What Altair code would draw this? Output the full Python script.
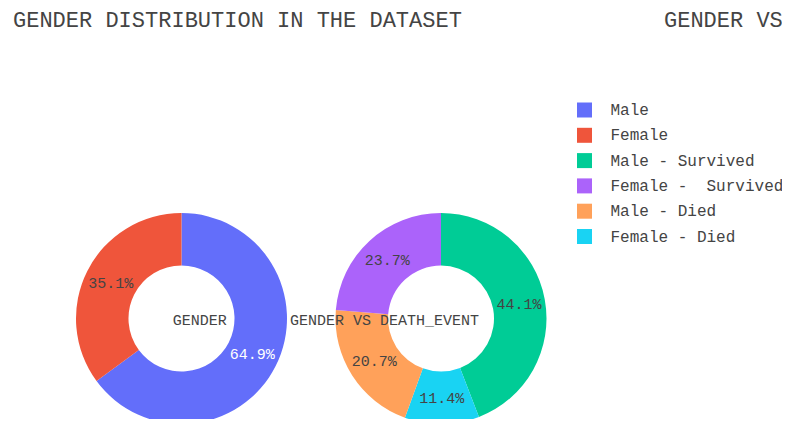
import altair as alt
import pandas as pd

# ---- data ----
gender_labels = ["Male", "Female"]
gender_pct = [64.9, 35.1]

death_labels = ["Male - Survived", "Female - Died", "Male - Died", "Female -  Survived"]
death_pct = [44.1, 11.4, 20.7, 23.7]

legend_order = ["Male", "Female", "Male - Survived", "Female -  Survived", "Male - Died", "Female - Died"]
palette = ["#636EFA", "#EF553B", "#00CC96", "#AB63FA", "#FFA15A", "#19D3F3"]

title_left = "GENDER DISTRIBUTION IN THE DATASET"
title_right = "GENDER VS"
center_left = "GENDER"
center_right = "GENDER VS DEATH_EVENT"

FONT = "Liberation Mono"
GREY = "#444444"

W, H = 774, 411
R_OUT, R_IN = 105.5, 53
R_MID = (R_OUT + R_IN) / 2
CY = 310.5
CX_L, CX_R = 173.5, 433


def make_df(labels, pct):
    return pd.DataFrame({
        "label": labels,
        "pct": pct,
        "idx": list(range(len(labels))),
        "txt": [f"{p:.1f}%" for p in pct],
    })


color_scale = alt.Scale(domain=legend_order, range=palette)
legend = alt.Legend(
    title=None, orient="none", legendX=568.5, legendY=94,
    symbolType="square", symbolSize=225, symbolStrokeWidth=0,
    labelFont=FONT, labelFontSize=16, labelColor=GREY, labelLimit=0,
    labelExpr="replace(datum.label, '  ', ' \u00a0')",
    labelOffset=18, rowPadding=9.3, padding=0,
)


def pie(df, cx):
    base = alt.Chart(df).encode(
        theta=alt.Theta("pct:Q", stack=True),
        order=alt.Order("idx:Q"),
    )
    arc = base.mark_arc(x=cx, y=CY, outerRadius=R_OUT, innerRadius=R_IN).encode(
        color=alt.Color("label:N", scale=color_scale, legend=legend)
    )
    txt = base.mark_text(x=cx, y=CY, radius=R_MID, font=FONT, fontSize=15,
                         baseline="middle", align="center").encode(
        text="txt:N",
        detail="label:N",
        color=alt.condition(alt.datum.label == "Male", alt.value("white"), alt.value(GREY)),
    )
    return [arc, txt]


def label(text, x, y, size, align="left", baseline="alphabetic"):
    return alt.Chart(pd.DataFrame({"t": [text]})).mark_text(
        font=FONT, fontSize=size, color=GREY, align=align, baseline=baseline
    ).encode(text="t:N", x=alt.value(x), y=alt.value(y))


layers = (
    pie(make_df(gender_labels, gender_pct), CX_L)
    + pie(make_df(death_labels, death_pct), CX_R)
    + [
        label(title_left, 5, 18.7, 22),
        label(title_right, 656, 18.7, 22),
        label(center_left, 191.7, 312, 15, align="center", baseline="middle"),
        label(center_right, 376.5, 312, 15, align="center", baseline="middle"),
    ]
)

chart = alt.layer(*layers).resolve_scale(theta="independent").properties(
    width=W, height=H, padding=0, autosize="none"
).configure_view(stroke=None)

chart.save("out.html", embed_options={"renderer": "svg", "actions": False})
